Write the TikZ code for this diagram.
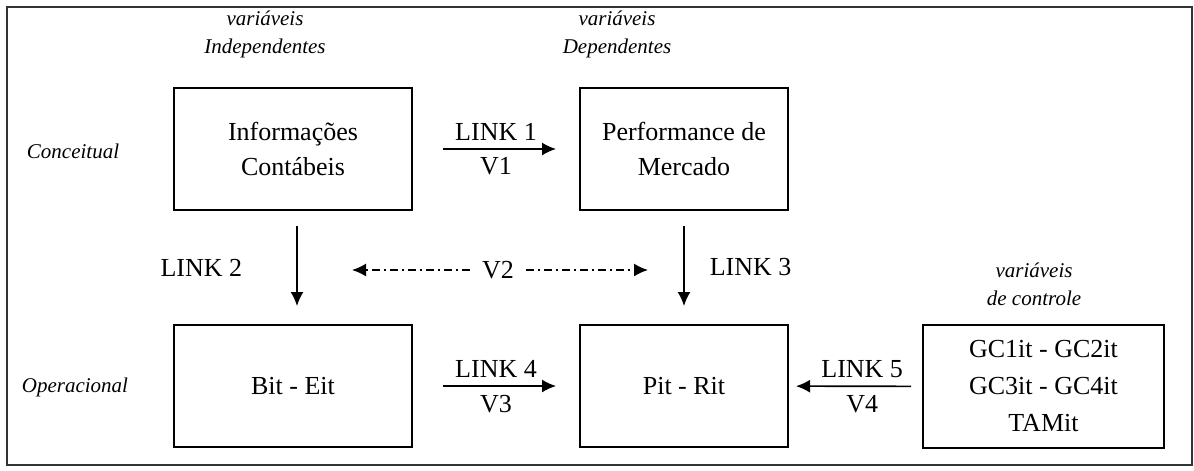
\documentclass[tikz,border=0pt]{standalone}
\usepackage{fontspec}
\setmainfont{Liberation Serif}
\usetikzlibrary{arrows.meta}
\tikzstyle{varbox} = [
    draw,
    line width=1pt,
    rectangle,
    align=center,
    inner sep=0pt,
    font=\fontsize{13}{17.5}\selectfont
    ]
\tikzstyle{link} = [
    line width=0.8pt,
    -{Latex[length=7pt,width=6.5pt]}
    ]
\tikzstyle{linklabel} = [font=\fontsize{13}{15}\selectfont, inner sep=1pt]
\tikzstyle{vartitle} = [font=\fontsize{10.5}{14}\selectfont\itshape, align=center]

\begin{document}
\begin{tikzpicture}[x=0.5pt,y=-0.5pt]
\useasboundingbox (0,0) rectangle (1194,471);
\draw[line width=0.7pt, draw=black!80] (7,7) rectangle (1192,465);

% conceptual level
\node[varbox, minimum width=119pt, minimum height=61pt] (info) at (293,149) {Informações\\Contábeis};
\node[varbox, minimum width=104pt, minimum height=61pt] (perf) at (684,149) {Performance de\\Mercado};
% operational level
\node[varbox, minimum width=119pt, minimum height=61pt] (bit) at (293,386) {Bit - Eit};
\node[varbox, minimum width=104pt, minimum height=61pt] (pit) at (684,386) {Pit - Rit};
\node[varbox, minimum width=120.5pt, minimum height=61.5pt, font=\fontsize{13}{18.5}\selectfont] (gc) at (1043.5,386.5) {GC1it - GC2it\\GC3it - GC4it\\TAMit};

% titles
\node[vartitle] (indep) at (265,34) {variáveis\\Independentes};
\node[vartitle] (dep) at (617,34) {variáveis\\Dependentes};
\node[vartitle] (ctrl) at (1034,284) {variáveis\\de controle};
\node[vartitle] (conc) at (73,151) {Conceitual};
\node[vartitle] (oper) at (75,387) {Operacional};

% links
\draw[link, shorten <=15pt, shorten >=11.5pt] (info) -- node[linklabel, above=3pt]{LINK 1} node[linklabel, below=3pt]{V1} (perf);
\draw[link, shorten <=7.5pt, shorten >=9pt] ([xshift=2pt]info.south) -- node[linklabel, left=26pt]{LINK 2} ([xshift=2pt]bit.north);
\draw[link, shorten <=7.5pt, shorten >=9pt] (perf) -- node[linklabel, right=11.5pt]{LINK 3} (pit);
\draw[link, shorten <=15pt, shorten >=11.5pt] (bit) -- node[linklabel, above=3pt]{LINK 4} node[linklabel, below=3pt]{V3} (pit);
\draw[link, shorten <=5.5pt, shorten >=3.5pt] (gc) -- node[linklabel, pos=0.45, above=3pt]{LINK 5} node[linklabel, pos=0.45, below=3pt]{V4} (pit);

% V2 between the two levels
\node[linklabel] (v2) at (498,270) {V2};
\coordinate (v2w) at (352,270);
\coordinate (v2e) at (648,270);
\draw[link, dash pattern=on 4pt off 2pt on 1pt off 2pt, shorten <=5pt] (v2) -- (v2w);
\draw[link, dash pattern=on 4pt off 2pt on 1pt off 2pt, shorten <=5pt] (v2) -- (v2e);
\end{tikzpicture}
\end{document}
